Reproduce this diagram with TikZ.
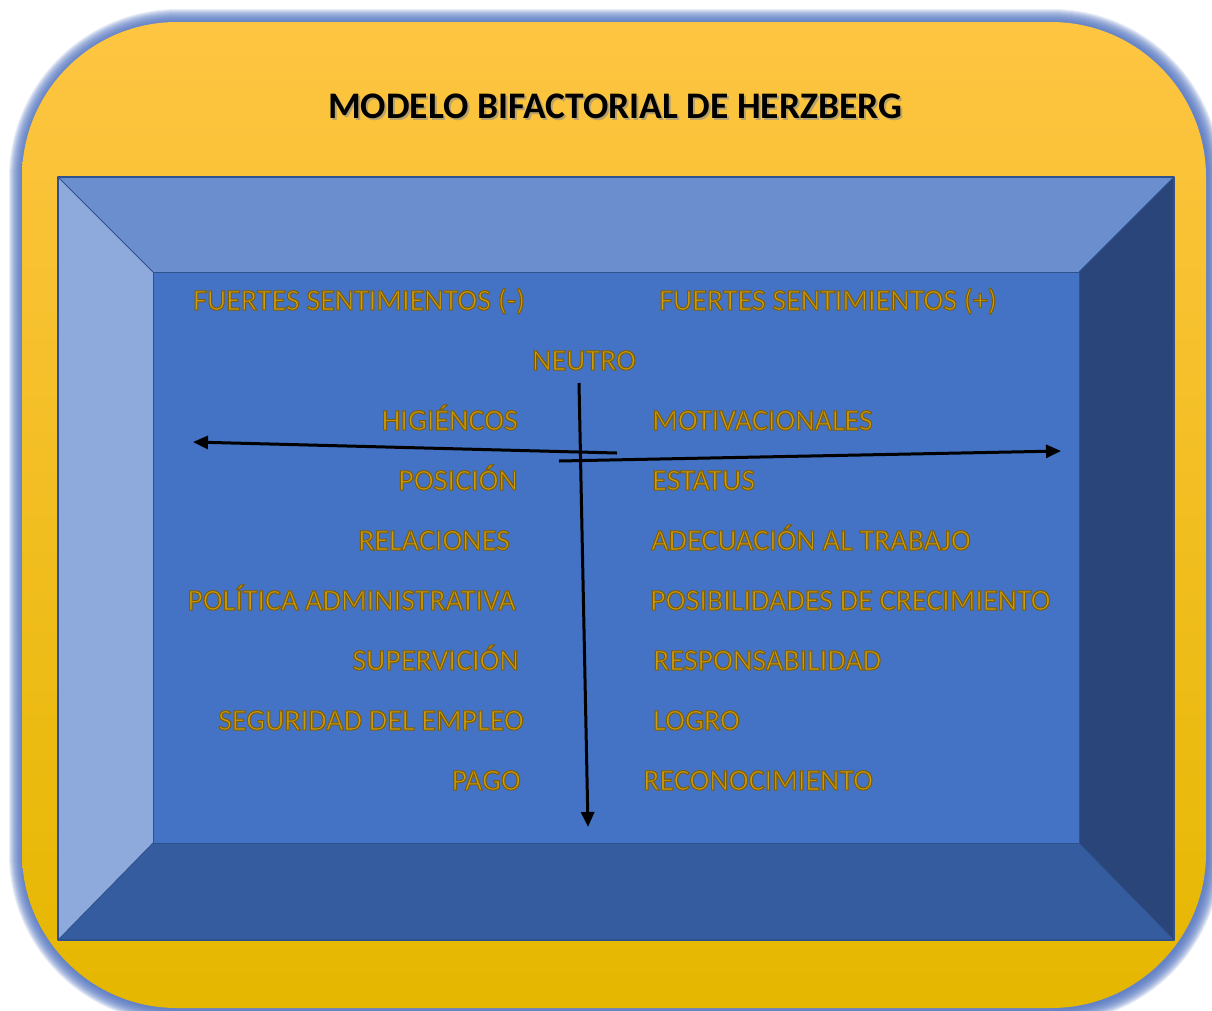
\documentclass[tikz,border=0pt]{standalone}
\usepackage{fontspec}
\setmainfont{Carlito}
\usetikzlibrary{arrows.meta}
\definecolor{goldtop}{RGB}{254,197,66}
\definecolor{goldbot}{RGB}{229,183,0}
\definecolor{glowblue}{RGB}{75,110,188}
\definecolor{facecol}{RGB}{68,114,196}
\definecolor{bevtop}{RGB}{106,142,206}
\definecolor{bevleft}{RGB}{142,170,220}
\definecolor{bevright}{RGB}{41,69,121}
\definecolor{bevbot}{RGB}{52,92,158}
\definecolor{edgecol}{RGB}{47,82,143}
\definecolor{labelgold}{RGB}{204,156,10}
% gold lettering with a darker brown rim
\newcommand\goldtext[1]{\special{pdf:literal direct 2 Tr 1.0 w 0.50 0.36 0 RG}#1\special{pdf:literal direct 0 Tr}}
\begin{document}
\begin{tikzpicture}[x=1pt,y=-1pt,
  panel/.style={rounded corners=155pt},
  bevel/.style={draw=edgecol,line width=1.2pt,line join=round},
  lbl/.style={font=\fontsize{30}{31}\selectfont,text=labelgold,inner sep=0pt},
  axis/.style={line width=3pt,-{Triangle[length=15pt,width=13pt]}},
  titlestyle/.style={font=\fontsize{37.5}{39}\selectfont\bfseries,inner sep=0pt}]
\useasboundingbox (0,0) rectangle (1212,1010);

% soft blue halo around the panel, slightly heavier towards the lower right
\foreach \w in {2,4,...,28}{
  \draw[panel,glowblue,opacity=0.13,line width=\w pt] (23,23) rectangle (1207,1009);
}
% golden rounded panel
\shade[panel,top color=goldtop,bottom color=goldbot] (22,22) rectangle (1206,1008);

% bevelled blue frame
\fill[bevtop]   (58,177) -- (1174,177) -- (1079,272) -- (153,272) -- cycle;
\fill[bevleft]  (58,177) -- (153,272) -- (153,843) -- (58,940) -- cycle;
\fill[bevright] (1174,177) -- (1174,940) -- (1079,843) -- (1079,272) -- cycle;
\fill[bevbot]   (58,940) -- (1174,940) -- (1079,843) -- (153,843) -- cycle;
\fill[facecol]  (153,272) rectangle (1079,843);
\draw[bevel] (58,177) rectangle (1174,940);
\draw[bevel,line width=0.8pt] (153,272) rectangle (1079,843);
\draw[bevel,line width=0.8pt] (58,177) -- (153,272) (1174,177) -- (1079,272)
  (1174,940) -- (1079,843) (58,940) -- (153,843);

% title
\node[titlestyle,text=black!45,opacity=0.6,anchor=base west] (titleshadow) at (330,120) {MODELO BIFACTORIAL DE HERZBERG};
\node[titlestyle,anchor=base west] (title) at (328,118) {MODELO BIFACTORIAL DE HERZBERG};

% headings
\node[lbl,anchor=base west] (neg) at (193,310) {\goldtext{FUERTES SENTIMIENTOS (-)}};
\node[lbl,anchor=base west] (pos) at (659,310) {\goldtext{FUERTES SENTIMIENTOS (+)}};
\node[lbl,anchor=base west] (neutro) at (532,370) {\goldtext{NEUTRO}};

% hygiene factors
\node[lbl,anchor=base east] (h0) at (518,430) {\goldtext{HIGIÉNCOS}};
\node[lbl,anchor=base east] (h1) at (518,490) {\goldtext{POSICIÓN}};
\node[lbl,anchor=base east] (h2) at (510,550) {\goldtext{RELACIONES}};
\node[lbl,anchor=base east] (h3) at (516,610) {\goldtext{POLÍTICA ADMINISTRATIVA}};
\node[lbl,anchor=base east] (h4) at (519,670) {\goldtext{SUPERVICIÓN}};
\node[lbl,anchor=base east] (h5) at (524,730) {\goldtext{SEGURIDAD DEL EMPLEO}};
\node[lbl,anchor=base east] (h6) at (521,790) {\goldtext{PAGO}};

% motivators
\node[lbl,anchor=base west] (m0) at (652,430) {\goldtext{MOTIVACIONALES}};
\node[lbl,anchor=base west] (m1) at (652,490) {\goldtext{ESTATUS}};
\node[lbl,anchor=base west] (m2) at (651,550) {\goldtext{ADECUACIÓN AL TRABAJO}};
\node[lbl,anchor=base west] (m3) at (650,610) {\goldtext{POSIBILIDADES DE CRECIMIENTO}};
\node[lbl,anchor=base west] (m4) at (653,670) {\goldtext{RESPONSABILIDAD}};
\node[lbl,anchor=base west] (m5) at (653,730) {\goldtext{LOGRO}};
\node[lbl,anchor=base west] (m6) at (643,790) {\goldtext{RECONOCIMIENTO}};

% axes
\coordinate (vtop) at (579,383);
\coordinate (vbot) at (588,827);
\coordinate (lstart) at (617,453);
\coordinate (lend) at (193,442);
\coordinate (rstart) at (559,461);
\coordinate (rend) at (1061,451);
\draw[axis] (vtop) -- (vbot);
\draw[axis] (lstart) -- (lend);
\draw[axis] (rstart) -- (rend);
\end{tikzpicture}
\end{document}
